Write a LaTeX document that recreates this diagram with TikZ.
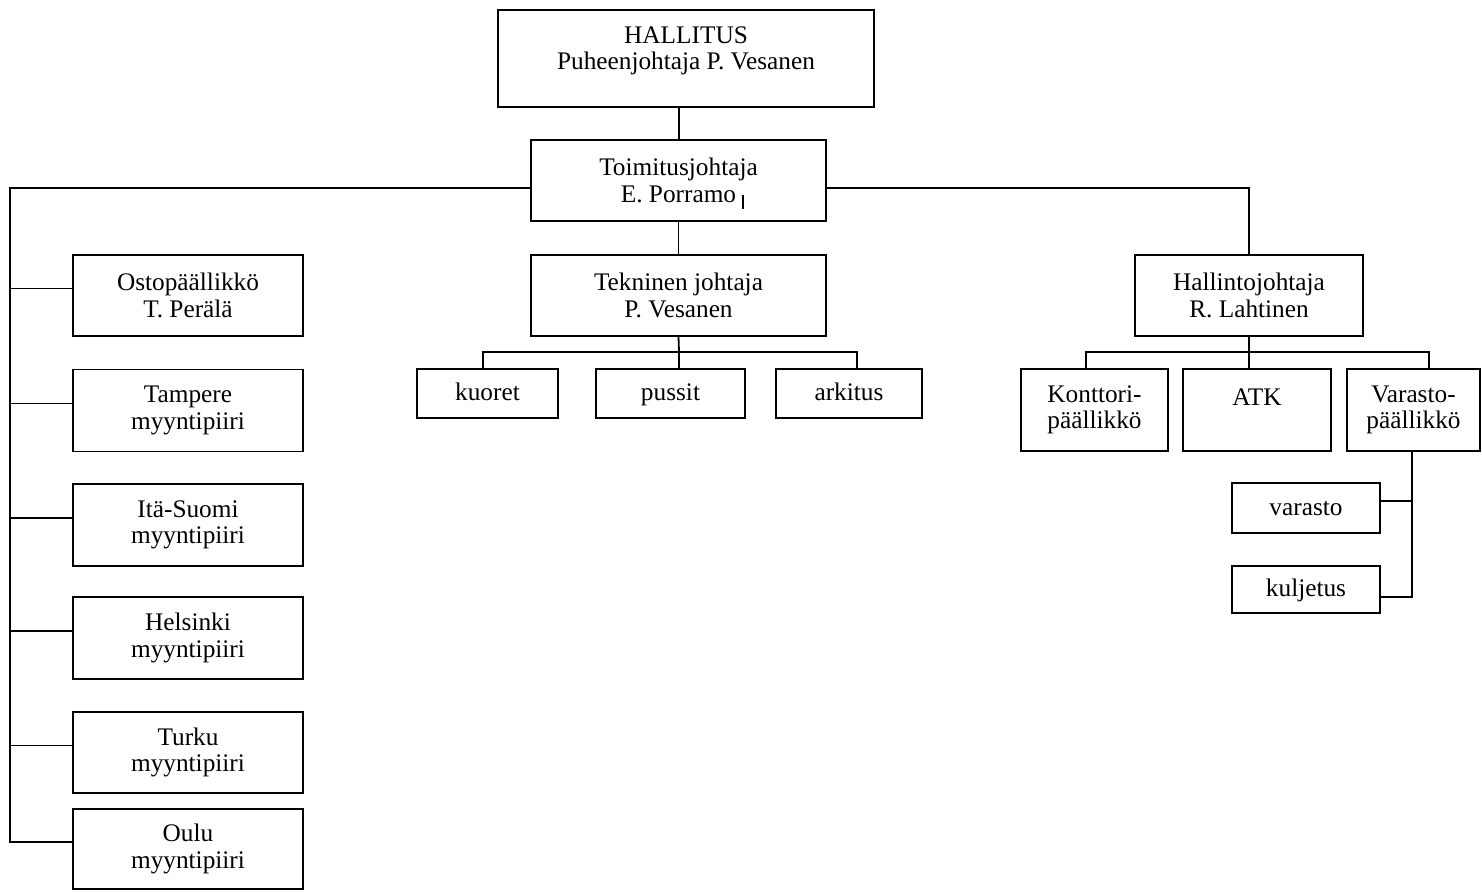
\documentclass[tikz,border=0pt]{standalone}
\usepackage{fontspec}
\setmainfont{Liberation Serif}
\begin{document}
\begin{tikzpicture}[x=1pt,y=-1pt,
  box/.style={draw, line width=1.8pt, inner sep=0pt, align=center,
    font=\fontsize{25.3}{26.5}\selectfont},
  oneline/.style={text height=18pt, text depth=3.5pt},
  wire/.style={line width=1.8pt}]
\useasboundingbox (0,0) rectangle (1482,891);

% top of the organisation
\node[box, minimum width=376, minimum height=97] (hall) at (686,58.5)
  {HALLITUS\\Puheenjohtaja P. Vesanen\\[-6pt]{}};
\node[box, minimum width=295, minimum height=81] (toim) at (678.5,180.5)
  {Toimitusjohtaja\\E. Porramo};
\node[box, minimum width=295, minimum height=81] (tek) at (678.5,295.5)
  {Tekninen johtaja\\P. Vesanen};
\node[box, minimum width=228, minimum height=81] (hallinto) at (1249,295.5)
  {Hallintojohtaja\\R. Lahtinen};

% production units
\node[box, oneline, minimum width=141, minimum height=49] (kuoret) at (487.5,393.5) {kuoret};
\node[box, oneline, minimum width=149, minimum height=49] (pussit) at (670.5,393.5) {pussit};
\node[box, oneline, minimum width=146, minimum height=49] (arkitus) at (849,393.5) {arkitus};

% administration units
\node[box, minimum width=147, minimum height=82] (konttori) at (1094.5,410)
  {Konttori-\\päällikkö};
\node[box, minimum width=148, minimum height=82] (atk) at (1257,410) {ATK\\{}};
\node[box, minimum width=133, minimum height=82] (varastop) at (1413.5,410)
  {Varasto-\\päällikkö};
\node[box, oneline, minimum width=148, minimum height=50] (varasto) at (1306,508) {varasto};
\node[box, oneline, minimum width=148, minimum height=47] (kuljetus) at (1306,589.5) {kuljetus};

% purchasing and sales districts
\node[box, minimum width=230, minimum height=81] (osto) at (188,295.5)
  {Ostopäällikkö\\T. Perälä};
\node[box, minimum width=230, minimum height=82] (tampere) at (188,410.5)
  {Tampere\\myyntipiiri};
\node[box, minimum width=230, minimum height=82] (ita) at (188,525)
  {Itä-Suomi\\myyntipiiri};
\node[box, minimum width=230, minimum height=82] (helsinki) at (188,638)
  {Helsinki\\myyntipiiri};
\node[box, minimum width=230, minimum height=81] (turku) at (188,752.5)
  {Turku\\myyntipiiri};
\node[box, minimum width=230, minimum height=80] (oulu) at (188,849)
  {Oulu\\myyntipiiri};

% junction points
\coordinate (lt) at (10,188);
\coordinate (rt) at (1249,188);
\coordinate (tk1) at (483,352);
\coordinate (tk2) at (679,352);
\coordinate (tk3) at (857,352);
\coordinate (hl1) at (1086,352);
\coordinate (hl2) at (1249,352);
\coordinate (hl3) at (1429,352);
\coordinate (v1) at (1412,501);
\coordinate (v2) at (1412,597);

% connectors
\draw[wire] (toim.north) ++(0.5,0) coordinate (tn) (hall.south -| tn) -- (tn);
\draw[wire] (toim.south) -- (tek.north);
\draw[wire] (toim.west |- lt) -- (lt) -- ([yshift=7pt]oulu.west -| lt)
  -- ([yshift=7pt]oulu.west);
\foreach \n in {osto,tampere,ita,helsinki,turku}
  \draw[wire] ([yshift=7pt]\n.west -| lt) -- ([yshift=7pt]\n.west);
\draw[wire] (toim.east |- rt) -- (rt) -- (hallinto.north);

\draw[wire] (tek.south) -- (tk2) -- (pussit.north -| tk2);
\draw[wire] (kuoret.north -| tk1) -- (tk1) -- (tk3) -- (arkitus.north -| tk3);

\draw[wire] (hallinto.south) -- (hl2) -- (atk.north -| hl2);
\draw[wire] (konttori.north -| hl1) -- (hl1) -- (hl3) -- (varastop.north -| hl3);

\draw[wire] (varastop.south -| v1) -- (v2) -- (kuljetus.east |- v2);
\draw[wire] (varasto.east |- v1) -- (v1);

% small pen stroke beside the managing director's name
\draw[line width=1.3pt] (743,195) -- (743,209);
\end{tikzpicture}
\end{document}
